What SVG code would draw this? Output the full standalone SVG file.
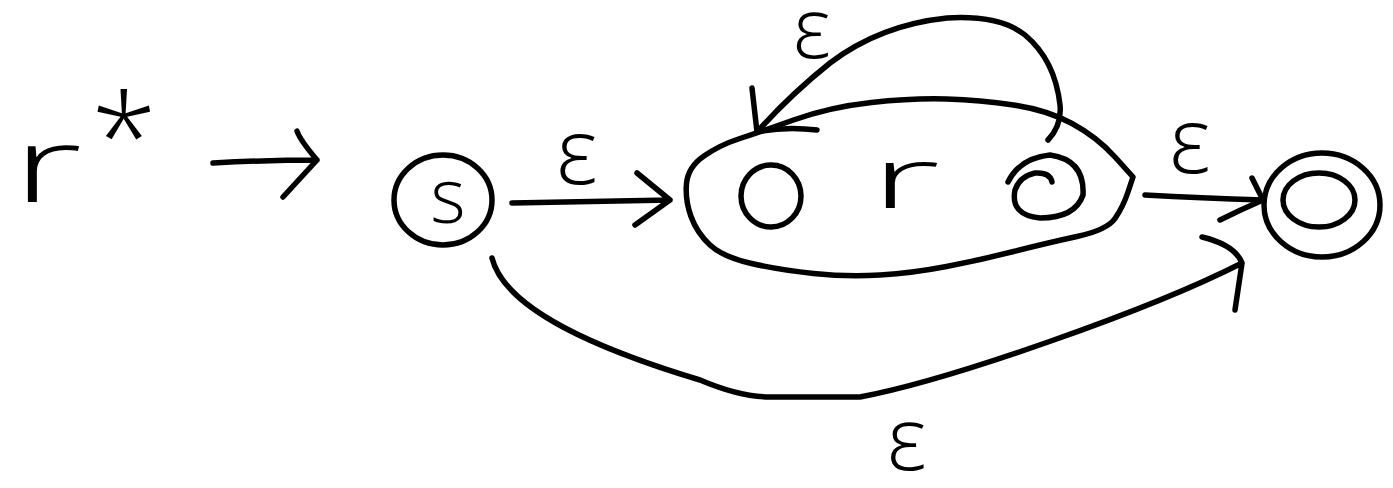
<svg xmlns="http://www.w3.org/2000/svg" width="1393" height="488" viewBox="0 0 1393 488">
<style>
.s{fill:none;stroke:#000;stroke-width:5.5;stroke-linecap:round;stroke-linejoin:round}
.t{font-family:"Open Sans","DejaVu Sans",sans-serif;font-weight:300;fill:#000}
</style>
<rect width="1393" height="488" fill="#fff"/>
<g id="label_rstar">
<text class="t" x="12" y="202" font-size="105" textLength="70" lengthAdjust="spacingAndGlyphs">r</text>
<text class="t" x="124" y="180" font-size="120" text-anchor="middle">*</text>
</g>
<g id="start_arrow">
<path class="s" d="M213,163 Q270,160 317,160 M297,131 Q300,140 317,160 L283,197"/>
</g>
<g id="state_s">
<ellipse class="s" cx="443" cy="200" rx="49" ry="45"/>
<text class="t" x="448" y="223" font-size="76" text-anchor="middle">s</text>
</g>
<g id="nfa_r">
<path class="s" d="M686.5,183.5 Q688,167 704,156 Q720,145 738.5,139 Q757,133 793.5,120 Q830,107 871.5,102.5 Q913,98 946.5,99 Q980,100 1013.5,105 Q1047,110 1072,123.5 Q1097,137 1115,157 L1133,177 L1128,192 Q1123,207 1115,218.5 Q1107,230 1077,236.5 Q1047,243 1013.5,251.5 Q980,260 946.5,266.5 Q913,273 880,275 Q847,277 813.5,273.5 Q780,270 751.5,263.5 Q723,257 710,245 Q697,233 691,216.5 Q685,200 686.5,183.5 Z"/>
<ellipse class="s" cx="771" cy="196" rx="30" ry="31"/>
<text class="t" x="870" y="208" font-size="85" textLength="70" lengthAdjust="spacingAndGlyphs">r</text>
<path class="s" d="M1052,182 Q1050,172 1035,173 Q1020,176 1015,190 Q1010,215 1040,218 Q1075,218 1083,195 Q1085,160 1050,155 Q1020,158 1008,182"/>
</g>
<g id="state_final">
<ellipse class="s" cx="1322" cy="205" rx="58" ry="52"/>
<ellipse class="s" cx="1319" cy="200" rx="36" ry="27"/>
</g>
<g id="connectors">
<path class="s" d="M512,203 L670,200 M637,173 L670,200 L635,225"/>
<path class="s" d="M1048,140 Q1062,125 1060,105 Q1055,60 1025,35 Q1000,15 947,18 Q880,25 830,63 Q790,95 757,132 M752,88 L757,132 Q785,126 817,130"/>
<path class="s" d="M1145,195 Q1200,198 1263,200 M1252,178 L1263,200 Q1240,210 1220,220"/>
<path class="s" d="M492,258 C505,310 600,350 700,380 Q740,397 770,397 L860,397 C950,380 1150,310 1242,263 M1202,237 Q1235,245 1242,263 L1235,310"/>
</g>
<g id="labels">
<text class="t" x="577" y="184" font-size="92" text-anchor="middle">ε</text>
<text class="t" x="812" y="58" font-size="84" text-anchor="middle">ε</text>
<text class="t" x="1190" y="173" font-size="92" text-anchor="middle">ε</text>
<text class="t" x="907" y="470" font-size="88" text-anchor="middle">ε</text>
</g>
</svg>
